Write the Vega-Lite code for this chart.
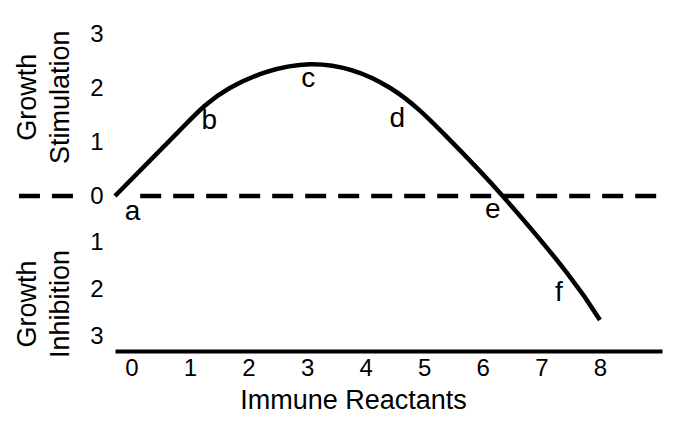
{
  "$schema": "https://vega.github.io/schema/vega-lite/v6.json",
  "width": 547,
  "height": 331,
  "autosize": {"type": "none"},
  "padding": {"left": 115, "top": 20, "right": 23, "bottom": 75},
  "background": "white",
  "config": {"view": {"stroke": null}, "font": "Liberation Sans"},
  "datasets": {
    "curve": [
      {"x": -0.28, "y": 0}, {"x": 0.83, "y": 1.22}, {"x": 1.68, "y": 2.0}, {"x": 3.05, "y": 2.44},
      {"x": 4.42, "y": 2.0}, {"x": 5.39, "y": 1.09}, {"x": 6.29, "y": 0.06},
      {"x": 7.44, "y": -1.64}, {"x": 8.0, "y": -2.64}
    ],
    "dashes": [
      {"x": -1.92, "xend": -0.98, "y": 0},
      {"x": 0.15, "xend": 9.03, "y": 0}
    ],
    "letters": [
      {"x": 0.02, "y": -0.51, "label": "a"},
      {"x": 1.33, "y": 1.24, "label": "b"},
      {"x": 3.02, "y": 2.02, "label": "c"},
      {"x": 4.54, "y": 1.28, "label": "d"},
      {"x": 6.17, "y": -0.47, "label": "e"},
      {"x": 7.3, "y": -2.23, "label": "f"}
    ],
    "titles": [
      {"x": -1.76, "y": 1.83, "label": "Growth\nStimulation"},
      {"x": -1.76, "y": -2.3, "label": "Growth\nInhibition"}
    ]
  },
  "encoding": {
    "x": {
      "field": "x", "type": "quantitative",
      "scale": {"domain": [-0.28, 9.06], "nice": false, "zero": false},
      "axis": {
        "values": [0, 1, 2, 3, 4, 5, 6, 7, 8], "format": "d",
        "domain": true, "domainColor": "black", "domainWidth": 4,
        "ticks": false, "grid": false, "labelFlush": false, "labelOverlap": false, "labelBound": false,
        "labelFontSize": 24, "labelColor": "black", "labelPadding": 5, "labelFont": "Liberation Sans",
        "title": "Immune Reactants", "titleFontSize": 27, "titleFontWeight": "normal", "titleColor": "black",
        "titleFont": "Liberation Sans",
        "titleX": 238, "titleY": 57, "titleBaseline": "alphabetic", "titleAlign": "center", "titleAnchor": null
      }
    },
    "y": {
      "field": "y", "type": "quantitative",
      "scale": {"domain": [-3.3, 0, 3.26], "range": [331, 176, 0], "nice": false, "zero": false},
      "axis": {
        "values": [-3, -2, -1, 0, 1, 2, 3],
        "labelExpr": "'' + abs(datum.value)",
        "domain": false, "ticks": false, "grid": false, "labelOverlap": false, "labelBound": false,
        "labelFontSize": 24, "labelColor": "black", "labelPadding": 12, "labelFont": "Liberation Sans",
        "title": null
      }
    }
  },
  "layer": [
    {
      "data": {"name": "dashes"},
      "mark": {"type": "rule", "color": "black", "strokeWidth": 4.5, "strokeDash": [21, 12], "strokeCap": "butt"},
      "encoding": {"x2": {"field": "xend"}}
    },
    {
      "data": {"name": "curve"},
      "mark": {"type": "line", "color": "black", "strokeWidth": 4.5, "interpolate": "natural"},
      "encoding": {}
    },
    {
      "data": {"name": "letters"},
      "mark": {"type": "text", "fontSize": 28, "align": "center", "baseline": "alphabetic", "color": "black", "font": "Liberation Sans"},
      "encoding": {"text": {"field": "label"}}
    },
    {
      "data": {"name": "titles"},
      "mark": {"type": "text", "fontSize": 27, "align": "center", "baseline": "middle", "angle": 270, "lineBreak": "\n", "lineHeight": 33, "color": "black", "font": "Liberation Sans"},
      "encoding": {"text": {"field": "label"}}
    }
  ]
}
